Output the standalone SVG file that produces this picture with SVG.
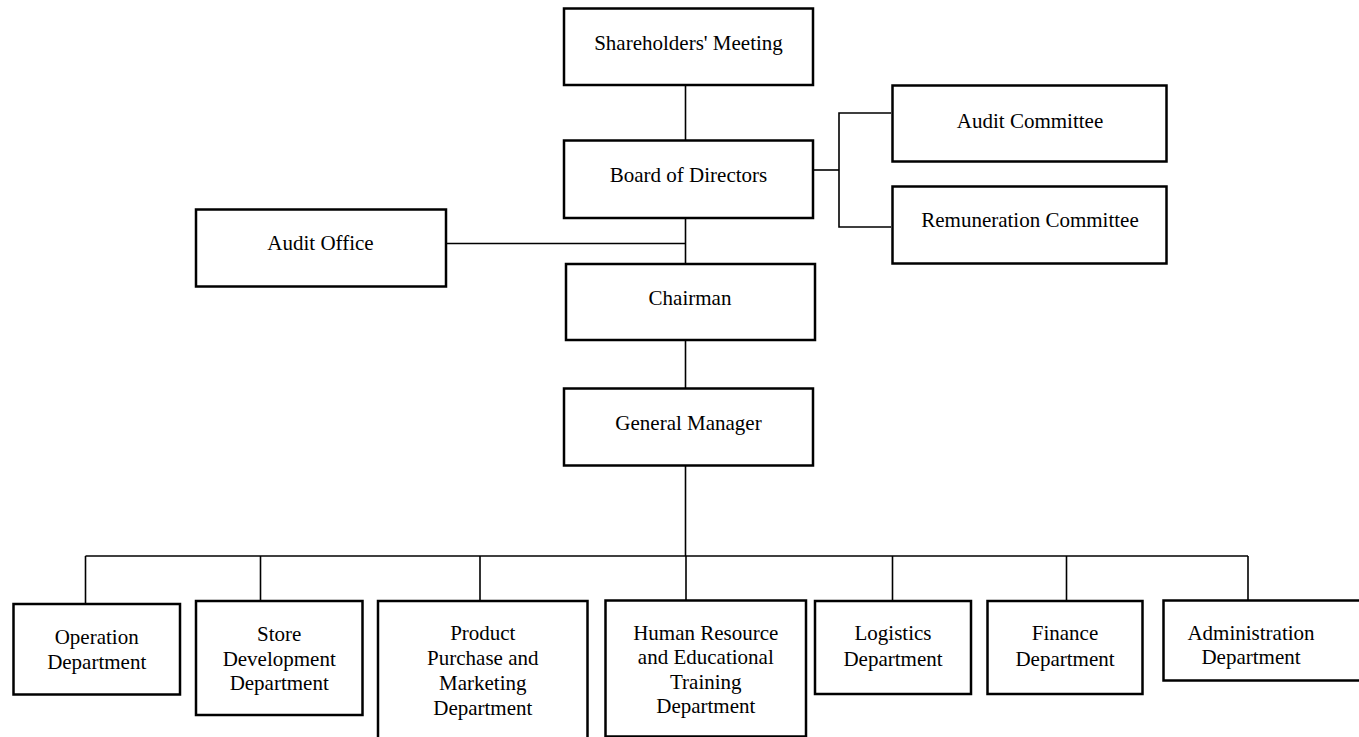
<svg xmlns="http://www.w3.org/2000/svg" width="1359" height="737" viewBox="0 0 1359 737">
<style>
.box{fill:#fff;stroke:#000;stroke-width:2.5}
.ln{fill:none;stroke:#000;stroke-width:1.6}
text{font-family:"Liberation Serif","Times New Roman",serif;font-size:21px;fill:#000;text-anchor:middle}
</style>
<rect width="1359" height="737" fill="#fff"/>
<g id="connectors">
<line class="ln" x1="685.5" y1="85" x2="685.5" y2="140"/>
<line class="ln" x1="685.5" y1="219" x2="685.5" y2="264"/>
<line class="ln" x1="446" y1="243.5" x2="685.5" y2="243.5"/>
<line class="ln" x1="813" y1="170" x2="839" y2="170"/>
<polyline class="ln" points="891,113 839,113 839,227 891,227"/>
<line class="ln" x1="685.5" y1="340" x2="685.5" y2="388"/>
<line class="ln" x1="685.5" y1="465" x2="685.5" y2="556"/>
<line class="ln" x1="85.5" y1="556" x2="1248" y2="556"/>
<line class="ln" x1="85.5" y1="556" x2="85.5" y2="604"/>
<line class="ln" x1="260.5" y1="556" x2="260.5" y2="601"/>
<line class="ln" x1="480" y1="556" x2="480" y2="601"/>
<line class="ln" x1="686" y1="556" x2="686" y2="600"/>
<line class="ln" x1="892.5" y1="556" x2="892.5" y2="601"/>
<line class="ln" x1="1066.5" y1="556" x2="1066.5" y2="601"/>
<line class="ln" x1="1248" y1="556" x2="1248" y2="600"/>
</g>
<g id="shareholders"><rect class="box" x="564" y="8.5" width="249" height="76.5"/><text x="688.5" y="50">Shareholders' Meeting</text></g>
<g id="board"><rect class="box" x="564" y="140.5" width="249" height="77.5"/><text x="688.5" y="182">Board of Directors</text></g>
<g id="audit-committee"><rect class="box" x="892.5" y="85.5" width="274" height="76"/><text x="1030" y="127.5">Audit Committee</text></g>
<g id="remuneration-committee"><rect class="box" x="892.5" y="186.5" width="274" height="77"/><text x="1030" y="227">Remuneration Committee</text></g>
<g id="audit-office"><rect class="box" x="196" y="209.5" width="250" height="77"/><text x="320.5" y="250">Audit Office</text></g>
<g id="chairman"><rect class="box" x="566" y="264" width="249" height="76"/><text x="690" y="305">Chairman</text></g>
<g id="general-manager"><rect class="box" x="564" y="388.5" width="249" height="77"/><text x="688.5" y="430">General Manager</text></g>
<g id="operation"><rect class="box" x="13.5" y="604" width="166.5" height="90.5"/><text x="96.7" y="644">Operation</text><text x="96.7" y="669">Department</text></g>
<g id="store-development"><rect class="box" x="196" y="601" width="166.5" height="114"/><text x="279.2" y="641">Store</text><text x="279.2" y="665.5">Development</text><text x="279.2" y="690">Department</text></g>
<g id="product-purchase"><rect class="box" x="378" y="601" width="209.5" height="140"/><text x="482.8" y="640">Product</text><text x="482.8" y="665">Purchase and</text><text x="482.8" y="690">Marketing</text><text x="482.8" y="715">Department</text></g>
<g id="human-resource"><rect class="box" x="605.5" y="600.5" width="200.5" height="136"/><text x="705.8" y="639.5">Human Resource</text><text x="705.8" y="664">and Educational</text><text x="705.8" y="688.5">Training</text><text x="705.8" y="713">Department</text></g>
<g id="logistics"><rect class="box" x="815" y="601" width="156" height="93"/><text x="893" y="640">Logistics</text><text x="893" y="666">Department</text></g>
<g id="finance"><rect class="box" x="987.5" y="601" width="155" height="93"/><text x="1065" y="640">Finance</text><text x="1065" y="666">Department</text></g>
<g id="administration"><rect class="box" x="1163.5" y="600.5" width="205" height="80"/><text x="1251" y="640">Administration</text><text x="1251" y="664">Department</text></g>
</svg>
